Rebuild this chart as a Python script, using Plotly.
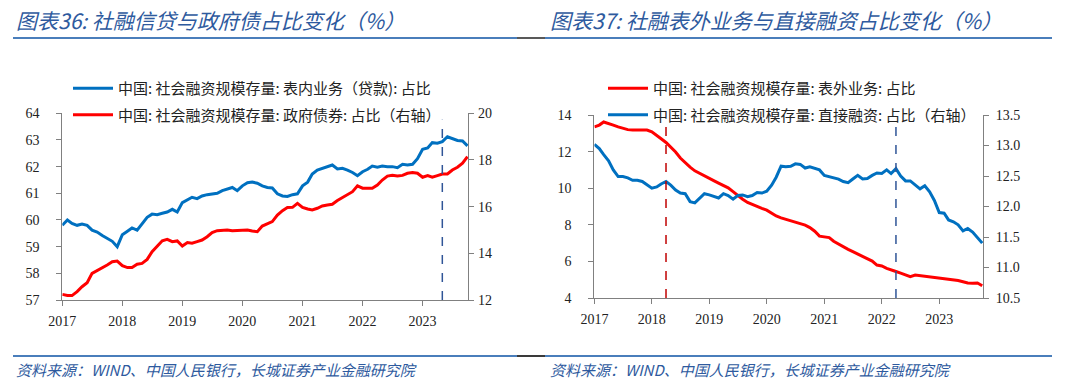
import plotly.graph_objects as go
import pandas as pd

# ---------------- data ----------------
months = pd.date_range("2017-01-01", "2023-10-01", freq="MS")

loan_share = [59.8, 60.0, 59.87, 59.8, 59.85, 59.8, 59.62, 59.55, 59.42, 59.3, 59.2, 59.0,
              59.45, 59.58, 59.7, 59.62, 59.87, 60.1, 60.22, 60.2, 60.25, 60.3, 60.4, 60.3,
              60.65, 60.75, 60.85, 60.8, 60.9, 60.95, 60.98, 61.0, 61.1, 61.15, 61.22, 61.1,
              61.28, 61.4, 61.42, 61.38, 61.28, 61.22, 61.2, 60.98, 60.9, 60.88, 60.95, 60.98,
              61.28, 61.42, 61.72, 61.87, 61.94, 62.0, 62.06, 61.91, 61.94, 61.87, 61.78, 61.66,
              61.81, 61.9, 62.02, 61.98, 62.02, 62.0, 62.0, 61.96, 62.09, 62.06, 62.09, 62.3,
              62.65, 62.7, 62.9, 62.88, 62.94, 63.12, 63.06, 62.98, 62.96, 62.78]

gov_bond_share = [12.24, 12.19, 12.19, 12.36, 12.57, 12.74, 13.14, 13.26, 13.36, 13.5, 13.64, 13.67,
                  13.47, 13.39, 13.39, 13.53, 13.57, 13.74, 14.07, 14.31, 14.54, 14.6, 14.5, 14.53,
                  14.31, 14.46, 14.43, 14.5, 14.57, 14.71, 14.89, 14.97, 14.99, 15.0, 14.97, 14.97,
                  15.0, 15.0, 14.96, 14.93, 15.17, 15.26, 15.36, 15.64, 15.83, 15.96, 15.97, 16.14,
                  15.97, 15.9, 15.86, 15.93, 16.03, 16.07, 16.1, 16.26, 16.39, 16.5, 16.64, 16.89,
                  16.79, 16.79, 16.79, 16.93, 17.14, 17.31, 17.34, 17.31, 17.34, 17.43, 17.46, 17.43,
                  17.26, 17.33, 17.26, 17.33, 17.4, 17.4, 17.57, 17.69, 17.86, 18.14]

offbs_share = [13.35, 13.45, 13.62, 13.55, 13.45, 13.35, 13.27, 13.2, 13.18, 13.18, 13.15, 13.18,
               13.08, 12.9, 12.7, 12.5, 12.25, 11.98, 11.65, 11.38, 11.15, 10.95, 10.8, 10.67,
               10.52, 10.4, 10.28, 10.15, 10.02, 9.81, 9.6, 9.4, 9.22, 9.1, 9.02, 8.9,
               8.8, 8.62, 8.48, 8.38, 8.3, 8.23, 8.13, 8.07, 7.98, 7.85, 7.65, 7.38,
               7.36, 7.3, 7.1, 6.94, 6.82, 6.66, 6.53, 6.4, 6.28, 6.15, 6.02, 5.8,
               5.75, 5.62, 5.52, 5.45, 5.36, 5.25, 5.17, 5.25, 5.22, 5.18, 5.14, 5.11,
               5.08, 5.05, 5.04, 5.0, 4.96, 4.89, 4.82, 4.8, 4.82, 4.67]

direct_share = [13.02, 12.95, 12.85, 12.75, 12.6, 12.49, 12.49, 12.47, 12.43, 12.43, 12.41, 12.36,
                12.3, 12.32, 12.37, 12.41, 12.35, 12.27, 12.22, 12.21, 12.08, 12.06, 12.14, 12.21,
                12.19, 12.16, 12.14, 12.21, 12.18, 12.12, 12.18, 12.19, 12.16, 12.18, 12.23, 12.22,
                12.25, 12.35, 12.48, 12.66, 12.65, 12.66, 12.7, 12.69, 12.63, 12.65, 12.62, 12.6,
                12.51, 12.49, 12.47, 12.45, 12.41, 12.39, 12.45, 12.51, 12.45, 12.46, 12.51, 12.55,
                12.54, 12.6, 12.54, 12.62, 12.5, 12.42, 12.42, 12.36, 12.29, 12.34, 12.24, 12.1,
                11.9, 11.89, 11.78, 11.75, 11.7, 11.6, 11.64, 11.58, 11.48, 11.4]

year_ticks = ["2017-01-01", "2018-01-01", "2019-01-01", "2020-01-01",
              "2021-01-01", "2022-01-01", "2023-01-01"]
year_labels = ["2017", "2018", "2019", "2020", "2021", "2022", "2023"]

left_marker_dates = ["2023-05-01"]
right_marker_dates = ["2018-04-01", "2022-04-01"]

title_left = "图表36: 社融信贷与政府债占比变化（%）"
title_right = "图表37: 社融表外业务与直接融资占比变化（%）"
source_text = "资料来源：WIND、中国人民银行，长城证券产业金融研究院"

name_loan = "中国: 社会融资规模存量: 表内业务（贷款): 占比"
name_gov = "中国: 社会融资规模存量: 政府债券: 占比（右轴）"
name_off = "中国: 社会融资规模存量: 表外业务: 占比"
name_direct = "中国: 社会融资规模存量: 直接融资: 占比（右轴）"

# ---------------- style ----------------
BLUE = "#0070C0"
RED = "#FF0000"
AXIS = "#808080"
TXT_BLUE = "#2E5A9E"
SERIF = "Liberation Serif, Times New Roman, serif"
CJK = "Noto Sans CJK SC, sans-serif"
W, H = 1080, 384

fig = go.Figure()
fig.add_trace(go.Scatter(x=months, y=loan_share, name=name_loan, mode="lines",
                         line=dict(color=BLUE, width=3), xaxis="x", yaxis="y",
                         legend="legend", legendgroup="a"))
fig.add_trace(go.Scatter(x=months, y=gov_bond_share, name=name_gov, mode="lines",
                         line=dict(color=RED, width=3), xaxis="x", yaxis="y2",
                         legend="legend", legendgroup="b"))
fig.add_trace(go.Scatter(x=months, y=offbs_share, name=name_off, mode="lines",
                         line=dict(color=RED, width=3), xaxis="x2", yaxis="y3",
                         legend="legend2", legendgroup="c"))
fig.add_trace(go.Scatter(x=months, y=direct_share, name=name_direct, mode="lines",
                         line=dict(color=BLUE, width=3), xaxis="x2", yaxis="y4",
                         legend="legend2", legendgroup="d"))

def px_x(p):
    return p / W

def px_y(p):
    return (H - p) / H

tickfont = dict(family=SERIF, size=14, color="#222222")
common_x = dict(type="date", tickvals=year_ticks, ticktext=year_labels, ticks="outside",
                ticklen=5, tickcolor=AXIS, showline=True, linecolor=AXIS, linewidth=1,
                showgrid=False, zeroline=False, tickfont=tickfont, automargin=False,
                ticklabelstandoff=3, range=["2017-01-01", "2023-10-06"])
common_y = dict(ticks="outside", ticklen=5, tickcolor=AXIS, showline=True, linecolor=AXIS,
                linewidth=1, showgrid=False, zeroline=False, tickfont=tickfont,
                automargin=False)

fig.update_layout(
    width=W, height=H, margin=dict(l=0, r=0, t=0, b=0, pad=0, autoexpand=False),
    paper_bgcolor="white", plot_bgcolor="rgba(0,0,0,0)",
    xaxis=dict(domain=[px_x(62.3), px_x(468.3)], anchor="y", **common_x),
    yaxis=dict(domain=[px_y(300), px_y(113.3)], anchor="x", range=[57, 64], dtick=1,
               ticklabelstandoff=14, **common_y),
    yaxis2=dict(overlaying="y", side="right", anchor="x", range=[12, 20], dtick=2,
                ticklabelstandoff=1, **common_y),
    xaxis2=dict(domain=[px_x(594.4), px_x(983)], anchor="y3", **common_x),
    yaxis3=dict(domain=[px_y(298), px_y(115)], anchor="x2", range=[4, 14], dtick=2,
                ticklabelstandoff=14, **common_y),
    yaxis4=dict(overlaying="y3", side="right", anchor="x2", range=[10.5, 13.5], dtick=0.5,
                tickformat=".1f", ticklabelstandoff=4, **common_y),
    legend=dict(x=px_x(68), y=px_y(72), xanchor="left", yanchor="top",
                font=dict(family=CJK, size=15, color="#222222"), itemwidth=40,
                tracegroupgap=4, bgcolor="rgba(0,0,0,0)"),
    legend2=dict(x=px_x(603), y=px_y(72), xanchor="left", yanchor="top",
                 font=dict(family=CJK, size=15, color="#222222"), itemwidth=40,
                 tracegroupgap=4, bgcolor="rgba(0,0,0,0)"),
)

shapes = []
for d in left_marker_dates:
    shapes.append(dict(type="line", xref="x", yref="y domain", x0=d, x1=d, y0=0, y1=0.965,
                       line=dict(color="#2F5597", width=1.5, dash="dash")))
shapes.append(dict(type="line", xref="x2", yref="y3 domain", x0=right_marker_dates[0],
                   x1=right_marker_dates[0], y0=0, y1=0.973,
                   line=dict(color="#C00000", width=1.5, dash="dash")))
shapes.append(dict(type="line", xref="x2", yref="y3 domain", x0=right_marker_dates[1],
                   x1=right_marker_dates[1], y0=0, y1=0.973,
                   line=dict(color="#2F5597", width=1.5, dash="dash")))
# title underlines and footer rule
for (x0, x1, yy, col) in [(13, 517, 38, "#4A7EBB"), (517, 545, 38, "#595959"),
                          (545, 1052, 38, "#4A7EBB"),
                          (13, 517, 356, "#4A7EBB"), (517, 545, 356, "#3A3A3A"),
                          (545, 1052, 356, "#4A7EBB")]:
    shapes.append(dict(type="line", xref="paper", yref="paper", x0=px_x(x0), x1=px_x(x1),
                       y0=px_y(yy), y1=px_y(yy), line=dict(color=col, width=2)))
fig.update_layout(shapes=shapes)

annots = []
for (txt, x) in [(title_left, 14), (title_right, 548)]:
    annots.append(dict(text="<i>" + txt + "</i>", xref="paper", yref="paper", x=px_x(x),
                       y=px_y(20), xanchor="left", yanchor="middle", showarrow=False,
                       font=dict(family=CJK, size=21, color=TXT_BLUE)))
for x in [14, 548]:
    annots.append(dict(text="<i>" + source_text + "</i>", xref="paper", yref="paper",
                       x=px_x(x), y=px_y(369), xanchor="left", yanchor="middle",
                       showarrow=False, font=dict(family=CJK, size=15, color=TXT_BLUE)))
fig.update_layout(annotations=annots)

fig.write_html("out.html", config={"displayModeBar": False},
               post_script="document.body.style.margin='0px';")
